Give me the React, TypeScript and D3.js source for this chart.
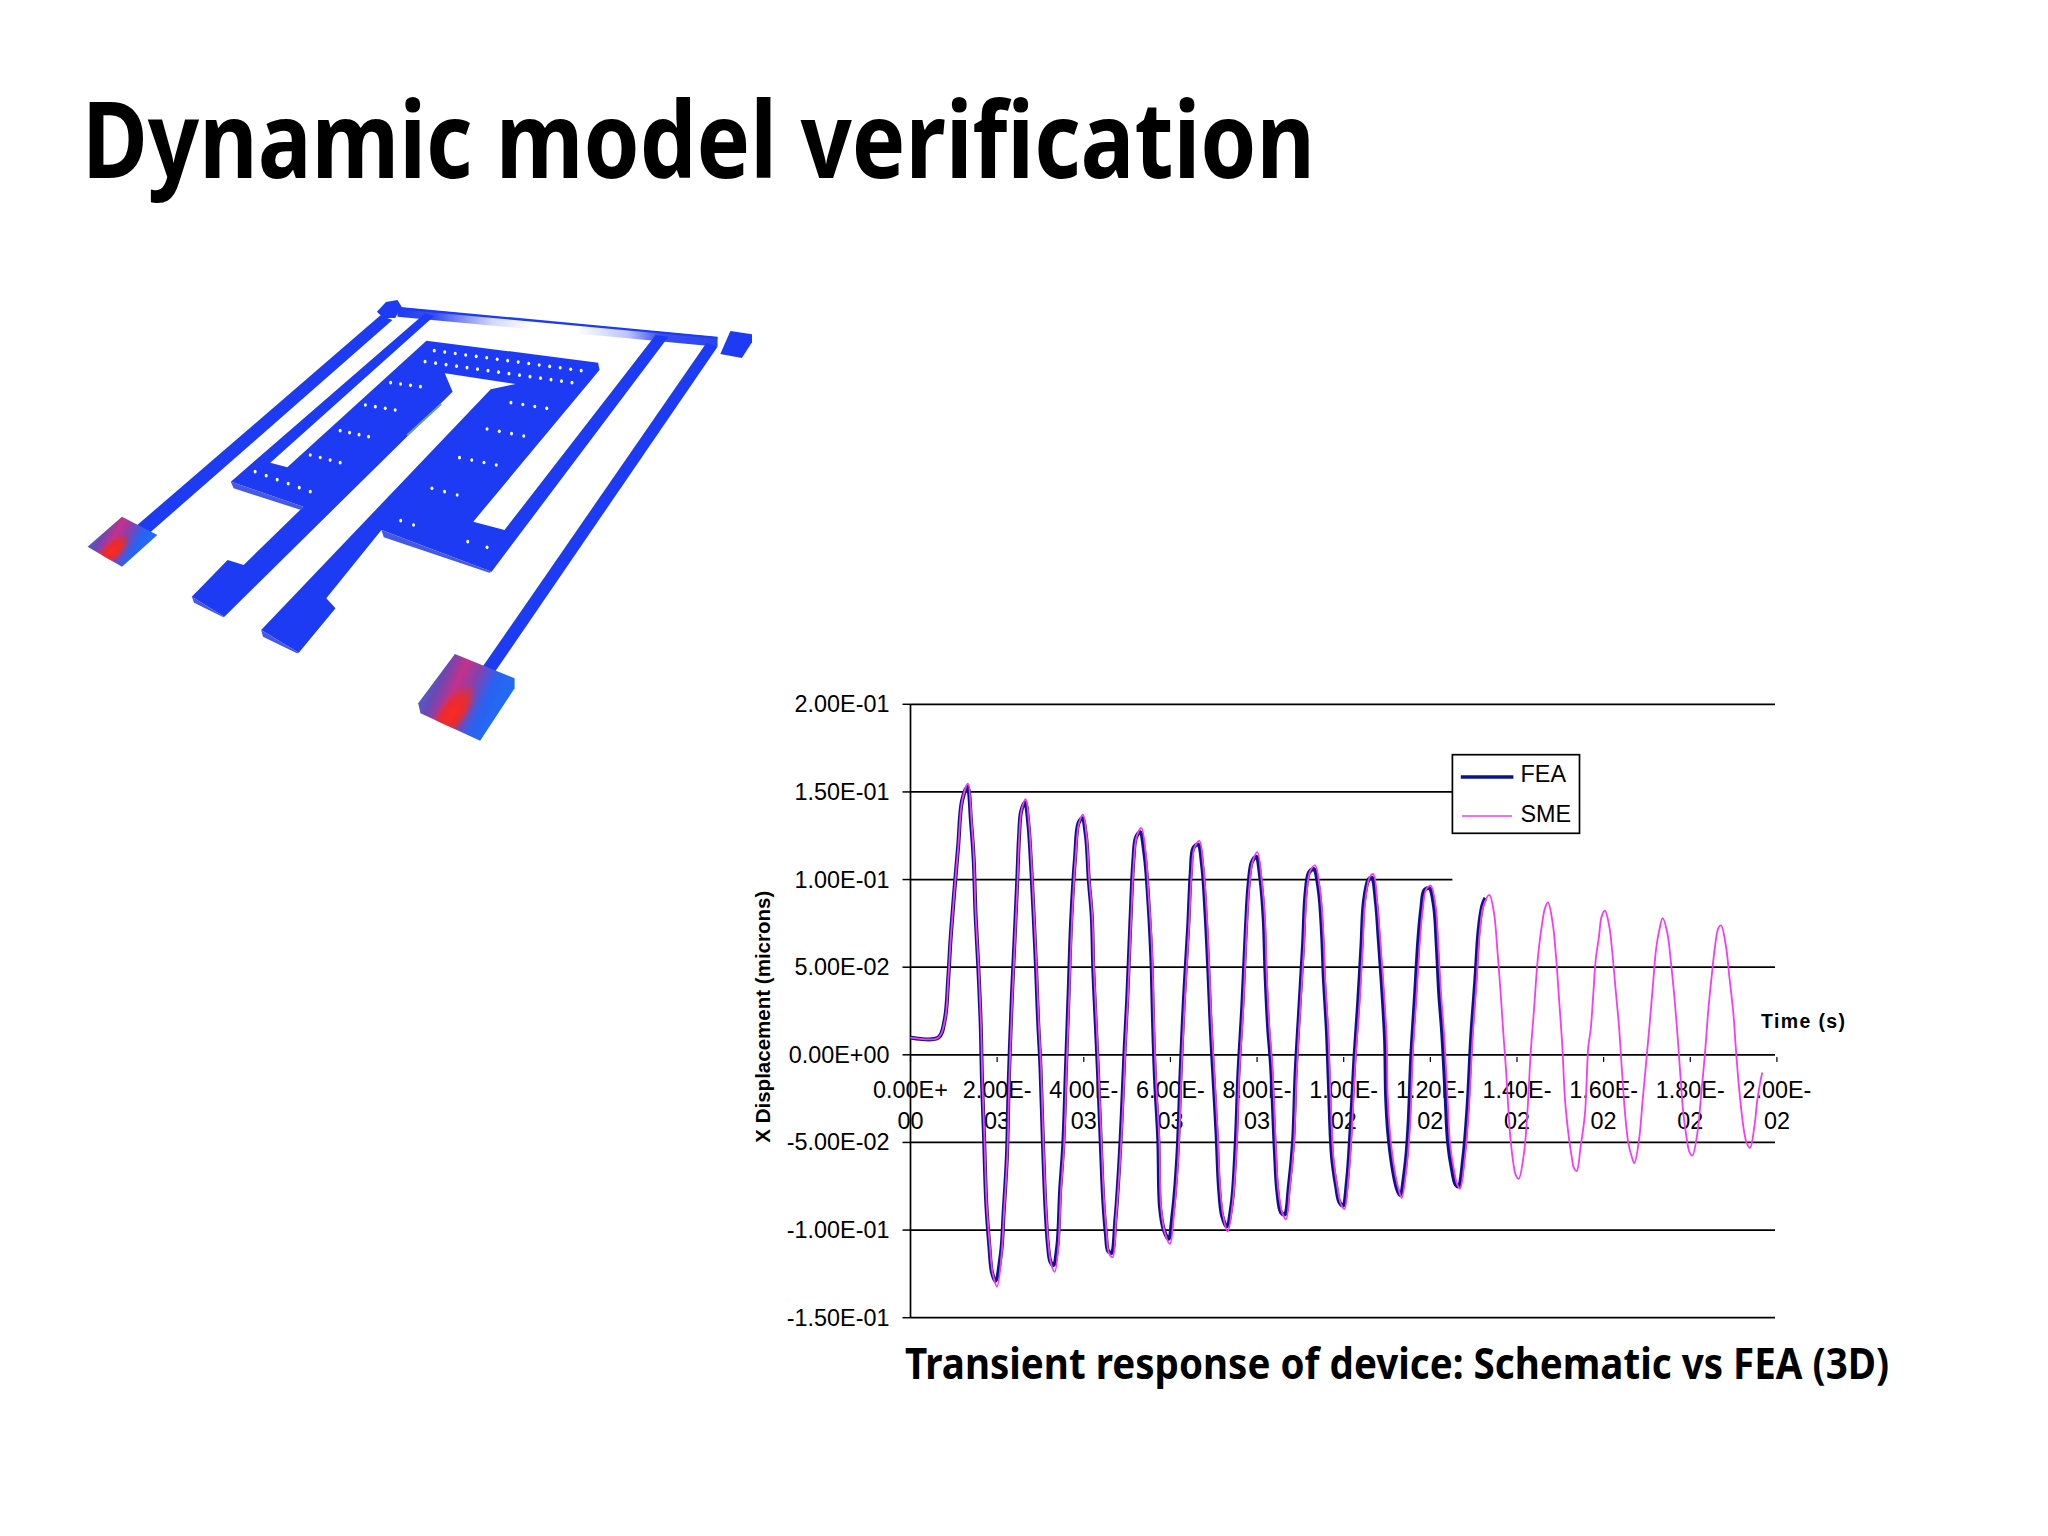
import * as React from 'react';
import * as d3 from 'd3';

// chart data. time in ms, displacement in microns
const smeTime = [
  0, 0.642, 0.796, 0.873, 0.927, 1.004, 1.104, 1.197, 1.327,
  1.412, 1.466, 1.504, 1.574, 1.627, 1.658, 1.704, 1.758, 1.835, 1.897, 1.997,
  2.105, 2.158, 2.235, 2.281, 2.351, 2.405, 2.474, 2.512, 2.566, 2.659,
  2.736, 2.797, 2.851, 2.913, 2.959, 3.013, 3.066, 3.128, 3.19, 3.243, 3.328,
  3.413, 3.474, 3.544, 3.605, 3.667, 3.728, 3.813, 3.89, 3.982,
  4.067, 4.128, 4.198, 4.236, 4.298, 4.351, 4.413, 4.467, 4.528, 4.582, 4.667,
  4.744, 4.836, 4.898, 4.952, 5.021, 5.09, 5.16, 5.221, 5.329,
  5.43, 5.5, 5.552, 5.59, 5.621, 5.667, 5.744, 5.783, 5.875, 5.99,
  6.083, 6.183, 6.26, 6.337, 6.429, 6.491, 6.552, 6.667,
  6.76, 6.837, 6.898, 6.952, 7.006, 7.091, 7.145, 7.221, 7.322,
  7.437, 7.529, 7.591, 7.683, 7.76, 7.822, 7.899, 8.006,
  8.106, 8.183, 8.222, 8.283, 8.353, 8.437, 8.491, 8.584, 8.668,
  8.76, 8.853, 8.914, 8.991, 9.084, 9.145, 9.222, 9.338,
  9.453, 9.53, 9.569, 9.645, 9.684, 9.761, 9.853, 9.93, 10.015,
  10.107, 10.184, 10.276, 10.361, 10.438, 10.492, 10.607, 10.684,
  10.776, 10.838, 10.915, 10.992, 11.015, 11.069, 11.161, 11.261, 11.338,
  11.453, 11.53, 11.592, 11.684, 11.761, 11.823, 11.9, 12.007,
  12.123, 12.184, 12.246, 12.315, 12.392, 12.454, 12.546, 12.623, 12.685,
  12.8, 12.892, 12.977, 13.069, 13.146, 13.223, 13.362,
  13.47, 13.547, 13.623, 13.685, 13.747, 13.839, 13.916, 13.97, 14.039,
  14.162, 14.239, 14.316, 14.393, 14.478, 14.57, 14.647, 14.716,
  14.824, 14.901, 14.978, 15.047, 15.109, 15.186, 15.262, 15.316, 15.378,
  15.47, 15.57, 15.647, 15.701, 15.763, 15.817, 15.893, 15.955, 16.032,
  16.132, 16.209, 16.278, 16.355, 16.417, 16.494, 16.571, 16.648, 16.709,
  16.817, 16.902, 16.994, 17.071, 17.148, 17.209, 17.286, 17.363,
  17.471, 17.556, 17.633, 17.702, 17.763, 17.84, 17.917, 17.979, 18.048,
  18.164, 18.248, 18.34, 18.417, 18.494, 18.571, 18.648, 18.71,
  18.825, 18.902, 18.995, 19.049, 19.11, 19.187, 19.249, 19.303, 19.38,
  19.48, 19.549, 19.626, 19.664,
];
const smeDisp = [
  0.0098, 0.0098, 0.02, 0.0428, 0.0656, 0.0904, 0.1189, 0.1455, 0.1547,
  0.1322, 0.1113, 0.0809, 0.05, 0.0181, -0.0143, -0.0447, -0.0846, -0.1094, -0.1245, -0.1322,
  -0.1132, -0.0903, -0.058, -0.0143, 0.0332, 0.0618, 0.0999, 0.1246, 0.1398, 0.1459,
  0.1322, 0.1075, 0.0809, 0.0485, 0.02, -0.0067, -0.0485, -0.0866, -0.1094, -0.1189, -0.1239,
  -0.1094, -0.0771, -0.0523, -0.0067, 0.0352, 0.0771, 0.1132, 0.1322, 0.137,
  0.1246, 0.0999, 0.079, 0.0485, 0.0162, -0.0143, -0.0523, -0.0827, -0.1018, -0.1132, -0.1155,
  -0.0942, -0.0618, -0.0333, -0.001, 0.0332, 0.0752, 0.1113, 0.1246, 0.1294,
  0.115, 0.09, 0.0713, 0.0485, 0.0181, -0.0143, -0.0485, -0.0866, -0.1018, -0.1079,
  -0.0903, -0.058, -0.0067, 0.0332, 0.0731, 0.1037, 0.118, 0.1221,
  0.1075, 0.0809, 0.0485, 0.0162, -0.0067, -0.0447, -0.0752, -0.0923, -0.1008,
  -0.0847, -0.0523, -0.0105, 0.0276, 0.0713, 0.0961, 0.1104, 0.1157,
  0.0999, 0.0771, 0.0466, 0.0162, -0.0067, -0.0542, -0.0771, -0.0903, -0.0938,
  -0.0752, -0.0504, -0.0105, 0.0238, 0.0618, 0.0923, 0.1046, 0.1081,
  0.0942, 0.0695, 0.0447, 0.0124, -0.0143, -0.058, -0.0752, -0.0847, -0.0881,
  -0.0713, -0.0447, -0.001, 0.0276, 0.0618, 0.0866, 0.1017, 0.1031,
  0.0866, 0.0675, 0.0409, 0.0086, -0.0238, -0.0447, -0.0638, -0.0761, -0.0816,
  -0.0638, -0.0409, -0.001, 0.0352, 0.0656, 0.0828, 0.0942, 0.0965,
  0.0847, 0.0618, 0.0352, 0.0124, -0.0219, -0.0504, -0.0657, -0.0742, -0.0763,
  -0.058, -0.0295, 0.0105, 0.0428, 0.0713, 0.0847, 0.0913,
  0.0809, 0.0599, 0.0352, 0.0124, -0.0086, -0.0447, -0.0618, -0.0685, -0.0708,
  -0.0561, -0.0333, 0.001, 0.0257, 0.0542, 0.0731, 0.0837, 0.0869,
  0.0752, 0.0561, 0.0295, 0.0048, -0.0257, -0.0447, -0.058, -0.0647, -0.0664,
  -0.0523, -0.0333, 0.0048, 0.0143, 0.0352, 0.0542, 0.0675, 0.079, 0.0822,
  0.0731, 0.0561, 0.0371, 0.0162, -0.0067, -0.0333, -0.0504, -0.058, -0.0618,
  -0.0485, -0.0257, -0.001, 0.02, 0.0428, 0.0599, 0.0713, 0.078,
  0.0695, 0.0523, 0.0332, 0.0124, -0.0086, -0.0333, -0.0476, -0.0552, -0.0575,
  -0.0447, -0.0238, 0.001, 0.0257, 0.0447, 0.0618, 0.0723, 0.0738,
  0.0618, 0.0447, 0.0238, 0.0048, -0.0143, -0.0333, -0.0447, -0.0504, -0.0531,
  -0.0409, -0.0257, -0.0143, -0.0101,
];
const feaTime = [
  0, 0.642, 0.79, 0.87, 0.925, 1.0, 1.1, 1.19, 1.315,
  1.4, 1.46, 1.5, 1.565, 1.62, 1.65, 1.695, 1.75, 1.82, 1.88, 1.96,
  2.09, 2.15, 2.225, 2.27, 2.34, 2.395, 2.465, 2.505, 2.555, 2.645,
  2.72, 2.785, 2.84, 2.9, 2.945, 3.0, 3.055, 3.115, 3.175, 3.23, 3.3,
  3.39, 3.455, 3.525, 3.59, 3.65, 3.71, 3.8, 3.875, 3.965,
  4.05, 4.115, 4.185, 4.22, 4.28, 4.335, 4.395, 4.45, 4.51, 4.565, 4.64,
  4.73, 4.82, 4.88, 4.935, 5.005, 5.075, 5.145, 5.205, 5.3,
  5.41, 5.485, 5.53, 5.57, 5.6, 5.645, 5.72, 5.76, 5.85, 5.955,
  6.055, 6.16, 6.24, 6.315, 6.41, 6.47, 6.53, 6.64,
  6.735, 6.81, 6.875, 6.93, 6.98, 7.065, 7.12, 7.195, 7.3,
  7.415, 7.505, 7.57, 7.66, 7.74, 7.8, 7.88, 7.98,
  8.08, 8.155, 8.195, 8.255, 8.325, 8.41, 8.465, 8.555, 8.64,
  8.735, 8.83, 8.89, 8.97, 9.06, 9.12, 9.2, 9.31,
  9.425, 9.5, 9.54, 9.615, 9.655, 9.73, 9.825, 9.9, 9.985,
  10.08, 10.155, 10.25, 10.33, 10.41, 10.465, 10.575, 10.65,
  10.745, 10.805, 10.88, 10.955, 10.98, 11.03, 11.125, 11.225, 11.3,
  11.42, 11.495, 11.56, 11.65, 11.725, 11.79, 11.865, 11.98,
  12.085, 12.15, 12.205, 12.275, 12.35, 12.41, 12.505, 12.585, 12.65,
  12.765, 12.86, 12.945, 13.04, 13.115, 13.2, 13.27,
];
const feaDisp = [
  0.0098, 0.0098, 0.02, 0.043, 0.066, 0.09, 0.119, 0.145, 0.153,
  0.132, 0.111, 0.081, 0.05, 0.018, -0.014, -0.045, -0.085, -0.109, -0.124, -0.129,
  -0.113, -0.09, -0.058, -0.014, 0.033, 0.062, 0.1, 0.124, 0.139, 0.144,
  0.132, 0.1075, 0.081, 0.0485, 0.02, -0.007, -0.0485, -0.0866, -0.109, -0.118, -0.12,
  -0.109, -0.077, -0.052, -0.007, 0.035, 0.077, 0.113, 0.132, 0.135,
  0.125, 0.1, 0.079, 0.0485, 0.016, -0.014, -0.052, -0.083, -0.102, -0.112, -0.113,
  -0.094, -0.062, -0.033, -0.001, 0.033, 0.075, 0.111, 0.124, 0.127,
  0.113, 0.09, 0.071, 0.0485, 0.018, -0.014, -0.0485, -0.087, -0.1, -0.105,
  -0.09, -0.058, -0.007, 0.033, 0.073, 0.104, 0.118, 0.12,
  0.1075, 0.081, 0.0485, 0.016, -0.007, -0.045, -0.075, -0.092, -0.098,
  -0.085, -0.052, -0.0105, 0.028, 0.071, 0.096, 0.11, 0.113,
  0.1, 0.077, 0.0466, 0.016, -0.007, -0.054, -0.077, -0.09, -0.091,
  -0.075, -0.05, -0.0105, 0.024, 0.062, 0.092, 0.104, 0.106,
  0.094, 0.0695, 0.0447, 0.0124, -0.0143, -0.058, -0.075, -0.084, -0.086,
  -0.071, -0.0447, -0.001, 0.028, 0.062, 0.087, 0.1, 0.101,
  0.087, 0.0675, 0.041, 0.0086, -0.024, -0.0447, -0.064, -0.076, -0.08,
  -0.064, -0.041, -0.001, 0.035, 0.066, 0.083, 0.094, 0.095,
  0.085, 0.062, 0.035, 0.0124, -0.022, -0.05, -0.066, -0.074, -0.075,
  -0.058, -0.0295, 0.0105, 0.043, 0.071, 0.085, 0.0895,
];

const yTicks = [0.2, 0.15, 0.1, 0.05, 0, -0.05, -0.1, -0.15];
const yTickLabels = ['2.00E-01', '1.50E-01', '1.00E-01', '5.00E-02', '0.00E+00', '-5.00E-02', '-1.00E-01', '-1.50E-01'];
const xTicks = [0, 2, 4, 6, 8, 10, 12, 14, 16, 18, 20];
const xTickTop = ['0.00E+', '2.00E-', '4.00E-', '6.00E-', '8.00E-', '1.00E-', '1.20E-', '1.40E-', '1.60E-', '1.80E-', '2.00E-'];
const xTickBottom = ['00', '03', '03', '03', '03', '02', '02', '02', '02', '02', '02'];
const legendNames = ['FEA', 'SME'];

// device picture, outlines in its own drawing units
const W = 1568, H = 1440;
const plateOutline = [[798,182],[1172,248],[1175,270],[900,725],[968,750],[1297,165],[1325,170],[940,875],[700,750],[580,955],[600,985],[520,1118],[438,1050],[938,328],[992,312],[838,280],[855,335],[358,1010],[287,950],[365,840],[400,855],[530,680],[372,605],[795,100],[815,108],[458,548],[495,562]];
const leftBeam = [[160,745],[698,106],[724,120],[190,765]];
const rightBeam = [[1408,188],[1432,200],[945,1180],[918,1165]];
const leftAnchor = [[690,95],[710,66],[735,60],[744,80],[730,114],[705,114]];
const rightAnchor = [[1438,222],[1460,153],[1507,163],[1507,187],[1485,234]];
const topBar = [[735,82],[1432,172],[1432,200],[735,110]];
const topEdge = [[735,80],[1432,170],[1432,176],[735,88]];
const smallPad = [[60,800],[135,710],[212,765],[135,860]];
const bigPad = [[780,1270],[860,1122],[990,1195],[990,1225],[915,1382],[785,1300]];
const sideFaces = [
  [[372,605],[530,680],[525,690],[378,625]],
  [[700,750],[940,875],[935,878],[705,772]],
  [[287,950],[358,1010],[356,1012],[292,968]],
  [[438,1050],[520,1118],[516,1120],[442,1070]],
];
const holeRows = [
  [815,212,1135,272,15], [795,245,1115,308,15],
  [720,308,785,320,4], [665,375,730,390,4], [610,452,672,470,4], [545,525,610,548,4], [425,575,545,635,6],
  [982,368,1060,385,4], [930,447,1010,468,4], [870,533,950,555,4], [810,625,865,645,3], [742,722,770,735,2], [888,785,930,802,2],
];

const xScale = d3.scaleLinear().domain([0, 20]).range([910.5, 1776.9]);
const yScale = d3.scaleLinear().domain([-0.15, 0.2]).range([1317.7, 704.3]);
const devX = d3.scaleLinear().domain([0, W]).range([60, 780]);
const devY = d3.scaleLinear().domain([0, H]).range([280, 760]);

const gridEnd = 1775;
const legendLeft = 1452.4;
const axisFont = '"Liberation Sans", Arial, sans-serif';
const feaColor = '#0a1488';
const smeColor = '#f23ef0';
const deviceBlue = '#1f3bf2';

const poly = (pts: number[][]) => pts.map(p => `${devX(p[0])},${devY(p[1])}`).join(' ');

function Device() {
  const dots = holeRows.flatMap(([x0, y0, x1, y1, n]) =>
    d3.range(n).map(i => [x0 + (x1 - x0) * i / (n - 1), y0 + (y1 - y0) * i / (n - 1)]));
  return (
    <g filter="url(#soft)">
      <defs>
        <filter id="soft" x="-5%" y="-5%" width="110%" height="110%">
          <feGaussianBlur stdDeviation="0.6" />
        </filter>
        <linearGradient id="barFade" x1="0" x2="1" y1="0" y2="0">
          <stop offset="0" stopColor={deviceBlue} />
          <stop offset="0.12" stopColor="#3a50f0" />
          <stop offset="0.3" stopColor="#d5d9fa" />
          <stop offset="0.42" stopColor="#ffffff" />
          <stop offset="0.56" stopColor="#ffffff" />
          <stop offset="0.72" stopColor="#bcc3f8" />
          <stop offset="0.82" stopColor="#3a50f0" />
          <stop offset="1" stopColor="#2a44ee" />
        </linearGradient>
        <linearGradient id="padHeat" x1="0" x2="1" y1="0.3" y2="0.7">
          <stop offset="0" stopColor="#3a70d8" />
          <stop offset="0.2" stopColor="#6a48b4" />
          <stop offset="0.36" stopColor="#c4308a" />
          <stop offset="0.5" stopColor="#8a40ac" />
          <stop offset="0.68" stopColor="#2a62f0" />
          <stop offset="1" stopColor="#1e72f5" />
        </linearGradient>
        <radialGradient id="padRed" cx="0" cy="0" r="1" gradientTransform="translate(0.36,0.68) rotate(-58) scale(0.4,0.16)">
          <stop offset="0" stopColor="#ff2a1c" />
          <stop offset="0.55" stopColor="#f02a22" stopOpacity={0.85} />
          <stop offset="1" stopColor="#f02a22" stopOpacity={0} />
        </radialGradient>
      </defs>
      <polygon points={poly(topBar)} fill="url(#barFade)" />
      <polygon points={poly(topEdge)} fill={deviceBlue} />
      <polygon points={poly(leftBeam)} fill={deviceBlue} />
      <polygon points={poly(rightBeam)} fill={deviceBlue} />
      <polygon points={poly(plateOutline)} fill={deviceBlue} />
      <polygon points={poly(leftAnchor)} fill={deviceBlue} />
      <polygon points={poly(rightAnchor)} fill={deviceBlue} />
      {sideFaces.map((f, i) => <polygon key={i} points={poly(f)} fill="#4558e6" />)}
      <polygon points={poly(smallPad)} fill="url(#padHeat)" />
      <polygon points={poly(smallPad)} fill="url(#padRed)" />
      <polygon points={poly(bigPad)} fill="url(#padHeat)" />
      <polygon points={poly(bigPad)} fill="url(#padRed)" />
      <line x1={devX(830)} y1={devY(372)} x2={devX(756)} y2={devY(466)} stroke="#6aa860" strokeWidth={2} />
      {dots.map((d, i) => <ellipse key={i} cx={devX(d[0])} cy={devY(d[1])} rx={1.5} ry={1.8} fill="#ffffff" />)}
    </g>
  );
}

export default function App() {
  const path = (ts: number[], vs: number[]) => d3.line<number>()
    .curve(d3.curveCatmullRom.alpha(0.5))
    .x(t => xScale(t))
    .y((_, i) => yScale(vs[i]))(ts) || undefined;

  return (
    <svg width={2048} height={1536} style={{ position: 'absolute', left: 0, top: 0, background: '#fff' }}>
      <text x={82} y={178} fontFamily='"Noto Sans", sans-serif' fontWeight={700} fontSize={106} textLength={1233} lengthAdjust="spacingAndGlyphs">Dynamic model verification</text>

      <Device />

      {yTicks.map((v, i) => (
        <g key={v}>
          <line x1={902.5} x2={910.5} y1={yScale(v)} y2={yScale(v)} stroke="#000" strokeWidth={1.5} />
          <line x1={910.5} x2={v === 0.15 || v === 0.1 ? legendLeft : gridEnd} y1={yScale(v)} y2={yScale(v)} stroke="#000" strokeWidth={1.7} />
          <text x={889.5} y={yScale(v) + 8} textAnchor="end" fontFamily={axisFont} fontSize={23.4}>{yTickLabels[i]}</text>
        </g>
      ))}
      <line x1={910.5} x2={910.5} y1={yScale(0.2)} y2={yScale(-0.15)} stroke="#000" strokeWidth={1.7} />

      {xTicks.map((t, i) => (
        <g key={t}>
          <line x1={xScale(t)} x2={xScale(t)} y1={1057} y2={1062} stroke="#000" strokeWidth={1.2} />
          <text x={xScale(t)} y={1098} textAnchor="middle" fontFamily={axisFont} fontSize={23.4}>{xTickTop[i]}</text>
          <text x={xScale(t)} y={1129} textAnchor="middle" fontFamily={axisFont} fontSize={23.4}>{xTickBottom[i]}</text>
        </g>
      ))}

      <path d={path(feaTime, feaDisp)} fill="none" stroke={feaColor} strokeWidth={4} strokeLinejoin="round" />
      <path d={path(smeTime, smeDisp)} fill="none" stroke={smeColor} strokeWidth={1.8} strokeLinejoin="round" />

      <text transform="translate(769.5,1142.7) rotate(-90)" fontFamily={axisFont} fontWeight={700} fontSize={19.5} textLength={252} lengthAdjust="spacingAndGlyphs">X Displacement (microns)</text>
      <text x={1761} y={1028} fontFamily={axisFont} fontWeight={700} fontSize={19.5} textLength={84}>Time (s)</text>

      <rect x={legendLeft} y={754.7} width={127.1} height={78.6} fill="#fff" stroke="#000" strokeWidth={1.7} />
      <line x1={1460.8} x2={1513.4} y1={777} y2={777} stroke={feaColor} strokeWidth={3.6} />
      <line x1={1462} x2={1512} y1={816} y2={816} stroke={smeColor} strokeWidth={1.5} />
      <text x={1520.5} y={781.7} fontFamily={axisFont} fontSize={23.4}>{legendNames[0]}</text>
      <text x={1520.5} y={821.7} fontFamily={axisFont} fontSize={23.4}>{legendNames[1]}</text>

      <text x={905} y={1378.5} fontFamily='"Noto Sans", sans-serif' fontWeight={700} fontSize={43} textLength={984} lengthAdjust="spacingAndGlyphs">Transient response of device: Schematic vs FEA (3D)</text>
    </svg>
  );
}
